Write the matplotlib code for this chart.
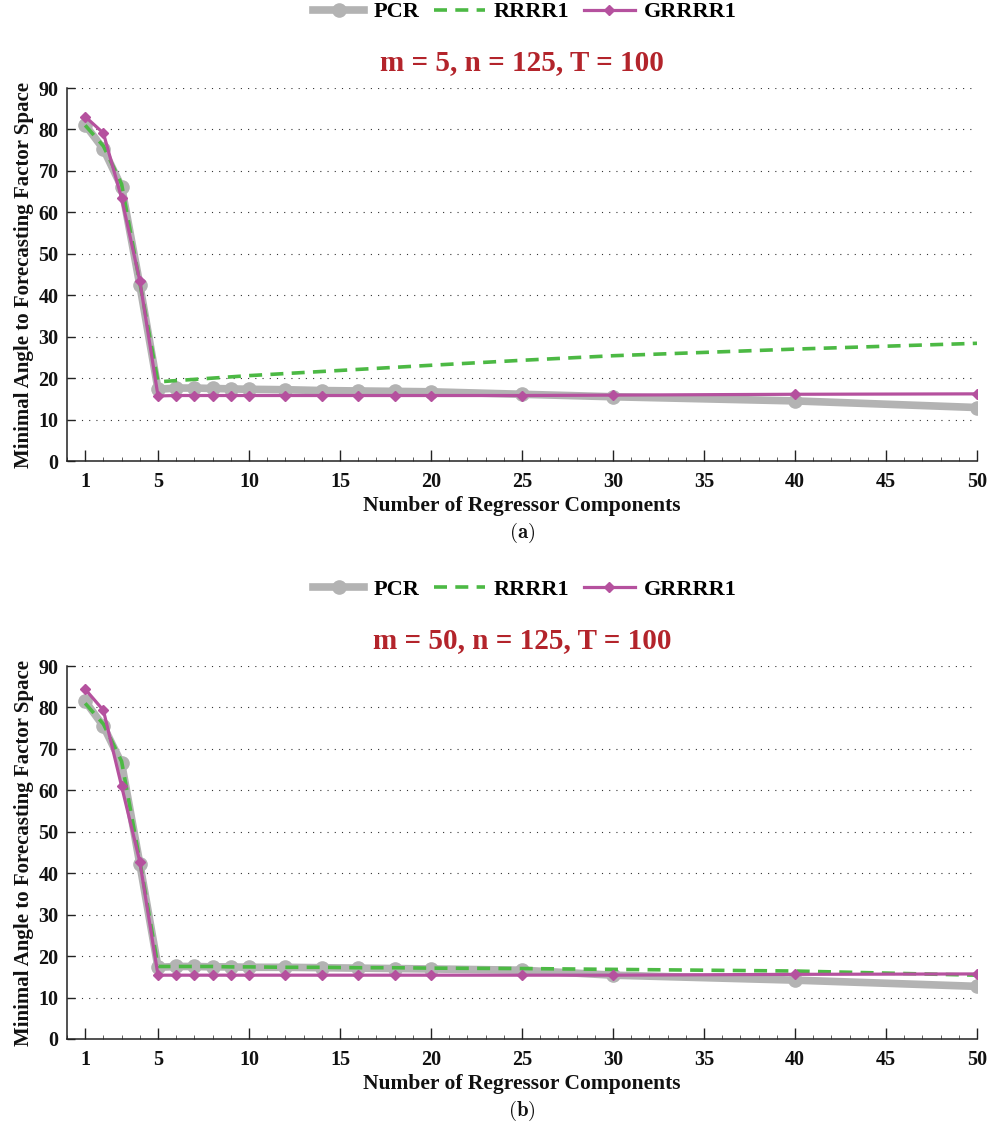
import matplotlib
matplotlib.use("Agg")
import matplotlib.pyplot as plt
from matplotlib.ticker import MultipleLocator

plt.rcParams['font.family'] = ['Liberation Serif', 'DejaVu Serif']
plt.rcParams['font.weight'] = 'bold'
plt.rcParams['mathtext.fontset'] = 'cm'

x_components = [1, 2, 3, 4, 5, 6, 7, 8, 9, 10, 12, 14, 16, 18, 20, 25, 30, 40, 50]
x_ticks = [1, 5, 10, 15, 20, 25, 30, 35, 40, 45, 50]
y_ticks = [0, 10, 20, 30, 40, 50, 60, 70, 80, 90]

# Panel (a): m = 5
pcr_a = [81.1, 75.3, 66.1, 42.5, 17.3, 17.6, 17.6, 17.5, 17.4, 17.3, 17.2, 17.0, 16.9, 16.8, 16.7, 16.1, 15.5, 14.5, 12.9]
rrrr1_a = [81.0, 76.0, 66.8, 43.0, 19.1, 19.4, 19.7, 20.0, 20.3, 20.6, 21.1, 21.6, 22.1, 22.6, 23.1, 24.3, 25.4, 27.0, 28.4]
grrrr1_a = [83.1, 79.1, 63.4, 43.5, 15.7, 15.8, 15.8, 15.8, 15.8, 15.8, 15.8, 15.8, 15.8, 15.8, 15.8, 15.8, 15.9, 16.1, 16.2]

# Panel (b): m = 50
pcr_b = [81.5, 75.5, 66.5, 42.3, 17.3, 17.5, 17.5, 17.4, 17.4, 17.3, 17.3, 17.2, 17.1, 17.0, 16.9, 16.6, 15.4, 14.2, 12.7]
rrrr1_b = [81.0, 76.0, 67.0, 43.0, 17.5, 17.5, 17.5, 17.5, 17.4, 17.4, 17.3, 17.3, 17.2, 17.2, 17.1, 17.0, 16.8, 16.4, 15.4]
grrrr1_b = [84.4, 79.3, 61.0, 42.8, 15.4, 15.4, 15.4, 15.4, 15.4, 15.4, 15.4, 15.4, 15.4, 15.4, 15.4, 15.4, 15.4, 15.6, 15.7]

titles = ["m = 5, n = 125, T = 100", "m = 50, n = 125, T = 100"]
captions = [r"$\mathbf{(a)}$", r"$\mathbf{(b)}$"]
series_labels = ["PCR", "RRRR1", "GRRRR1"]

c_gray = "#b3b3b3"
c_green = "#4cb944"
c_mag = "#b5519e"
c_red = "#b3242b"

W, H = 992, 1127
fig = plt.figure(figsize=(W / 100, H / 100), dpi=100)

panels = [
    (pcr_a, rrrr1_a, grrrr1_a, 461),
    (pcr_b, rrrr1_b, grrrr1_b, 1039),
]

for i, (pcr, rr, gr, ybot) in enumerate(panels):
    left = 67 / W
    width = 910 / W
    bottom = 1 - ybot / H
    height = 373 / H
    ax = fig.add_axes([left, bottom, width, height])
    l1, = ax.plot(x_components, pcr, color=c_gray, lw=5.5, marker='o', ms=9.5,
                  markeredgecolor=c_gray, solid_joinstyle='round', label=series_labels[0], zorder=2)
    l2, = ax.plot(x_components, rr, color=c_green, lw=2.6, dashes=(3.6, 2.3),
                  label=series_labels[1], zorder=3)
    l3, = ax.plot(x_components, gr, color=c_mag, lw=2.3, marker='D', ms=5.5,
                  markeredgecolor=c_mag, label=series_labels[2], zorder=4)
    ax.set_xlim(0, 50)
    ax.set_ylim(0, 90)
    ax.set_xticks(x_ticks)
    ax.set_yticks(y_ticks)
    ax.xaxis.set_minor_locator(MultipleLocator(1))
    for sp in ['top', 'right']:
        ax.spines[sp].set_visible(False)
    for sp in ['left', 'bottom']:
        ax.spines[sp].set_linewidth(1.1)
        ax.spines[sp].set_color('#222222')
    ax.tick_params(axis='x', which='major', direction='in', length=8, width=1.0,
                   labelsize=14.5, pad=8, color='#222222')
    ax.tick_params(axis='x', which='minor', direction='in', length=3, width=0.6, color='#444444')
    ax.tick_params(axis='y', which='major', direction='in', length=6, width=1.0,
                   labelsize=14.5, pad=6, color='#222222')
    for lab in ax.get_xticklabels() + ax.get_yticklabels():
        lab.set_fontweight('bold')
        lab.set_color('#111111')
    for yv in y_ticks[1:]:
        ax.axhline(yv, color='#333333', lw=0.8, linestyle=(0, (1, 5.5)), zorder=1)
    ax.set_xlabel("Number of Regressor Components", fontsize=15.5, fontweight='bold',
                  labelpad=3, color='#111111')
    ax.set_ylabel("Minimal Angle to Forecasting Factor Space", fontsize=15,
                  fontweight='bold', labelpad=3, color='#111111')

    top_px = ybot - 373
    fig.legend(handles=[l1, l2, l3], labels=series_labels, loc='center',
               bbox_to_anchor=(525 / W, 1 - (top_px - 76) / H), ncol=3, frameon=False,
               prop={'family': 'Liberation Serif', 'weight': 'bold', 'size': 16},
               handlelength=2.3, columnspacing=0.65, handletextpad=0.4)
    fig.text(522 / W, 1 - (top_px - 25) / H, titles[i], ha='center', va='center',
             fontsize=21, fontweight='bold', color=c_red)
    fig.text(522 / W, 1 - (ybot + 72) / H, captions[i], ha='center', va='center',
             fontsize=15, color='#111111')

fig.savefig("out.png", dpi=100)
